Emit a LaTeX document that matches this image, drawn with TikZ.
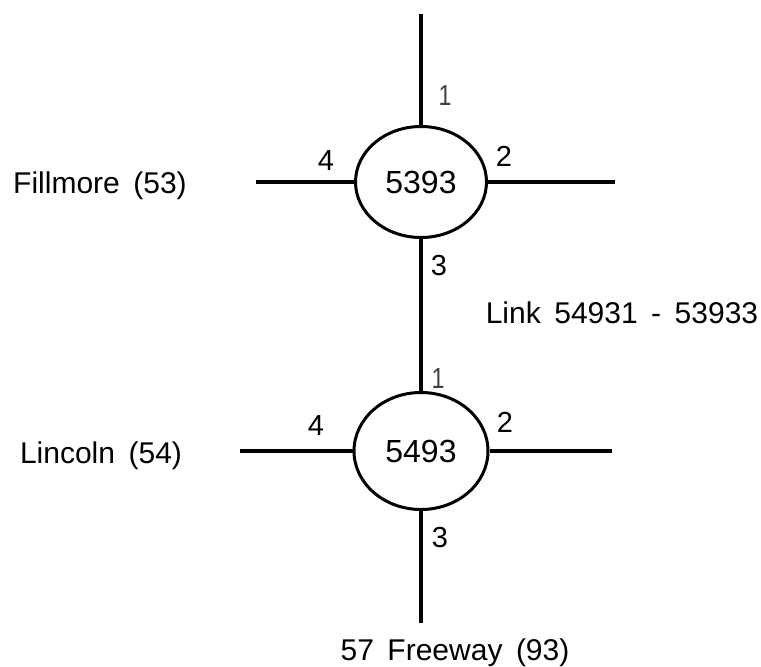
\documentclass[tikz,border=0pt]{standalone}
\usepackage{fontspec}
\setmainfont{Liberation Sans}
\usetikzlibrary{shapes.geometric}
\tikzset{
  road/.style={line width=4pt},
  junction/.style={ellipse, draw, line width=3pt, inner sep=0pt,
    font=\fontsize{32}{38}\selectfont},
  street/.style={anchor=base, inner sep=0pt,
    font=\fontsize{30}{36}\selectfont,
    execute at begin node={\spaceskip=13.5pt\relax}},
  leg/.style={anchor=base, inner sep=0pt, font=\fontsize{29}{34}\selectfont},
  legthin/.style={leg, text=black!75, xscale=0.8}
}
\begin{document}
\begin{tikzpicture}[x=1pt, y=-1pt]
  \useasboundingbox (0,0) rectangle (761,667);

  % intersections
  \node[junction, minimum width=131pt, minimum height=111pt] (n5393) at (421,182) {5393};
  \node[junction, minimum width=134pt, minimum height=117pt] (n5493) at (421,451) {5493};

  % free ends of the approaches
  \coordinate (t1) at (n5393.north |- 0,14);
  \coordinate (t2) at (615,182);
  \coordinate (t4) at (256,182);
  \coordinate (b2) at (612,451);
  \coordinate (b4) at (240,451);
  \coordinate (b3) at (n5493.south |- 0,623);

  % approaches
  \draw[road] (n5393.north) -- (t1);
  \draw[road] (n5393.east) -- (t2);
  \draw[road] (n5393.west) -- (t4);
  \draw[road] (n5393.south) -- (n5493.north);
  \draw[road] (n5493.east) -- (b2);
  \draw[road] (n5493.west) -- (b4);
  \draw[road] (n5493.south) -- (b3);

  % approach numbers
  \node[legthin] (l1a) at (445,105) {1};
  \node[leg] (l2a) at (504,166) {2};
  \node[leg] (l3a) at (439,275) {3};
  \node[leg] (l4a) at (326,170) {4};
  \node[legthin] (l1b) at (438,388) {1};
  \node[leg] (l2b) at (505,432) {2};
  \node[leg] (l3b) at (440,547) {3};
  \node[leg] (l4b) at (316,435) {4};

  % street names
  \node[street] (fill) at (100,193) {Fillmore (53)};
  \node[street] (linc) at (101,463) {Lincoln (54)};
  \node[street] (link) at (622,323) {Link 54931 - 53933};
  \node[street] (frwy) at (455,660) {57 Freeway (93)};
\end{tikzpicture}
\end{document}
